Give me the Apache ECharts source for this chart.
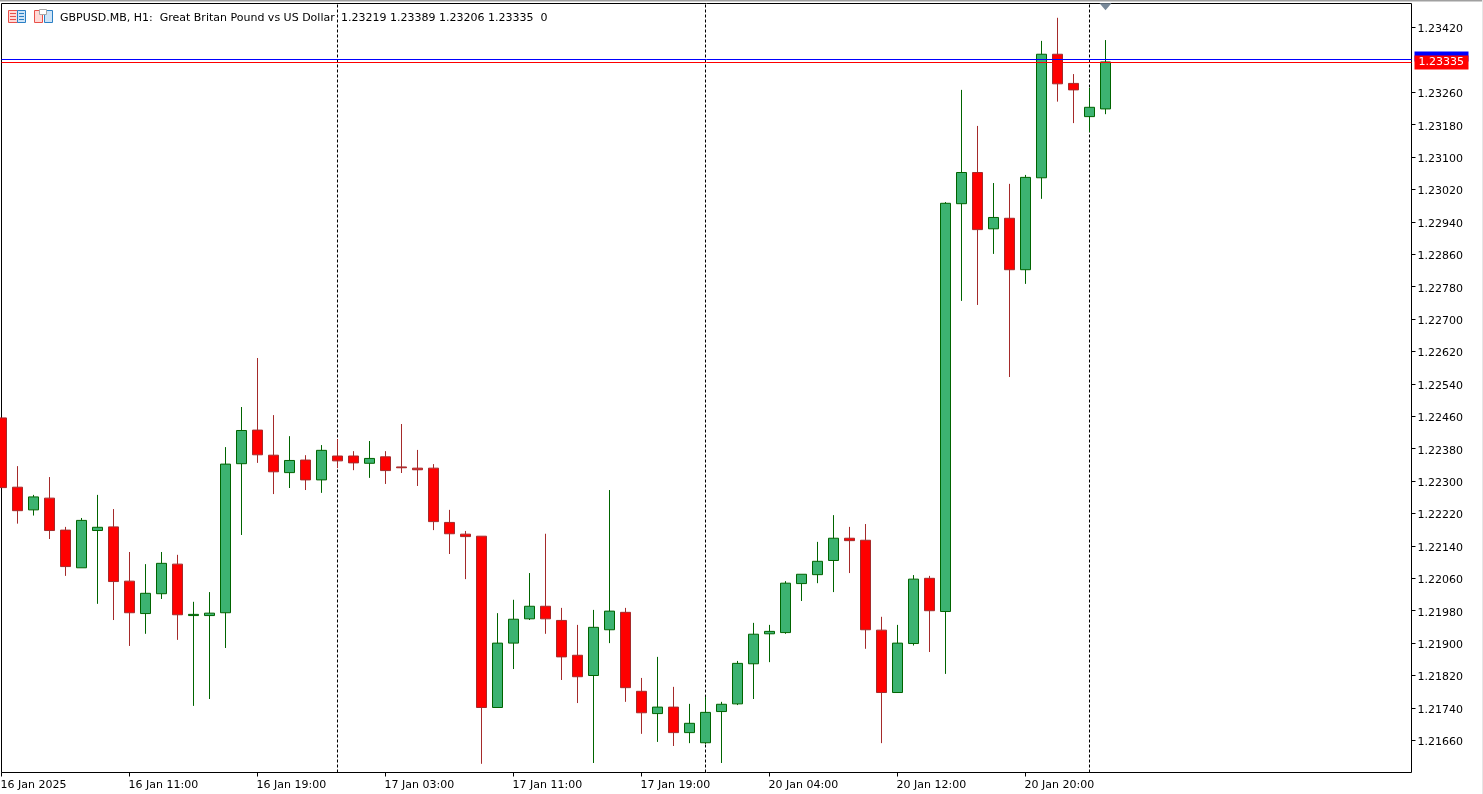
<!DOCTYPE html>
<html><head><meta charset="utf-8">
<style>html,body{margin:0;padding:0;background:#fff}#c{width:1483px;height:794px}</style>
<script src="https://cdn.jsdelivr.net/npm/echarts@6/dist/echarts.min.js"></script>
</head><body><div id="c"></div>
<script>
const days = [
  ['16 Jan',[3,4,5,6,7,8,9,10,11,12,13,14,15,16,17,18,19,20,21,22,23]],
  ['17 Jan',[0,1,2,3,4,5,6,7,8,9,10,11,12,13,14,15,16,17,18,19,20,21,22]],
  ['20 Jan',[0,1,2,3,4,5,6,7,8,9,10,11,12,13,14,15,16,17,18,19,20,21,22,23]],
  ['21 Jan',[0,1]]
];
const emptySlots = 19;
const firstLabel = '16 Jan 2025';
const xTickIndexes = [0,8,16,24,32,40,48,56,64];
const separatorIndexes = [21,44,68];
const yTicks = [1.2342,1.2326,1.2318,1.2310,1.2302,1.2294,1.2286,1.2278,1.2270,1.2262,1.2254,1.2246,1.2238,1.2230,1.2222,1.2214,1.2206,1.2198,1.2190,1.2182,1.2174,1.2166];
const opens = [1.22456,1.22285,1.22229,1.22258,1.22179,1.22086,1.22178,1.22187,1.22053,1.21973,1.22022,1.22095,1.21968,1.21968,1.21975,1.22343,1.22426,1.22364,1.22321,1.22352,1.22303,1.22362,1.22362,1.22344,1.22360,1.22335,1.22332,1.22332,1.22198,1.22169,1.22164,1.21741,1.21900,1.21960,1.21991,1.21956,1.21870,1.21820,1.21933,1.21976,1.21781,1.21726,1.21742,1.21679,1.21654,1.21731,1.21750,1.21849,1.21923,1.21926,1.22047,1.22069,1.22104,1.22159,1.22154,1.21932,1.21778,1.21899,1.22060,1.21978,1.22985,1.23062,1.22923,1.22949,1.22822,1.23049,1.23354,1.23282,1.23200,1.23219];
const closes = [1.22284,1.22227,1.22261,1.22178,1.22089,1.22203,1.22186,1.22052,1.21975,1.22023,1.22097,1.21970,1.21971,1.21974,1.22342,1.22425,1.22365,1.22323,1.22351,1.22303,1.22376,1.22350,1.22345,1.22356,1.22326,1.22333,1.22328,1.22200,1.22170,1.22163,1.21741,1.21900,1.21959,1.21991,1.21960,1.21866,1.21817,1.21939,1.21979,1.21790,1.21728,1.21742,1.21679,1.21702,1.21729,1.21749,1.21850,1.21922,1.21929,1.22048,1.22070,1.22102,1.22159,1.22153,1.21933,1.21778,1.21900,1.22058,1.21980,1.22986,1.23062,1.22921,1.22951,1.22822,1.23050,1.23354,1.23281,1.23266,1.23223,1.23335];
const lows = [1.22284,1.22195,1.22215,1.22157,1.22066,1.22086,1.21997,1.21957,1.21893,1.21923,1.22009,1.21908,1.21745,1.21762,1.21888,1.22167,1.22345,1.22268,1.22283,1.22278,1.22271,1.22332,1.22327,1.22308,1.22293,1.22320,1.22288,1.22179,1.22120,1.22058,1.21602,1.21741,1.21836,1.21957,1.21923,1.21809,1.21752,1.21604,1.21900,1.21755,1.21676,1.21656,1.21646,1.21653,1.21651,1.21604,1.21747,1.21762,1.21853,1.21923,1.22004,1.22048,1.22026,1.22073,1.21886,1.21653,1.21778,1.21894,1.21878,1.21824,1.22745,1.22735,1.22861,1.22557,1.22787,1.22997,1.23237,1.23184,1.23162,1.23206];
const highs = [1.22456,1.22337,1.22266,1.22310,1.22187,1.22209,1.22266,1.22231,1.22125,1.22095,1.22125,1.22118,1.22002,1.22026,1.22384,1.22483,1.22604,1.22463,1.22411,1.22364,1.22389,1.22404,1.22374,1.22399,1.22374,1.22441,1.22377,1.22342,1.22229,1.22177,1.22164,1.21974,1.22007,1.22073,1.22170,1.21987,1.21945,1.21982,1.22278,1.21987,1.21814,1.21866,1.21792,1.21750,1.21767,1.21755,1.21856,1.21950,1.21945,1.22053,1.22070,1.22150,1.22216,1.22187,1.22194,1.21965,1.21945,1.22068,1.22066,1.22989,1.23266,1.23177,1.23036,1.23034,1.23056,1.23387,1.23444,1.23305,1.23271,1.23389];
const askLevel = 1.23341;
const bidLevel = 1.233336;
const bidLabel = '1.23335';
const yMax = 1.234793, yMin = 1.2158053;
const markerPrice = 1.234715;
const titleText = 'GBPUSD.MB, H1:  Great Britan Pound vs US Dollar';
const ohlcText = '1.23219 1.23389 1.23206 1.23335  0';

const categories = [];
days.forEach(d => d[1].forEach(h => categories.push(d[0] + ' ' + String(h).padStart(2,'0') + ':00')));
categories[0] = firstLabel;
for (let i = 0; i < emptySlots; i++) categories.push('x' + i);
const candleData = opens.map((o,i) => [o, closes[i], lows[i], highs[i]]);

const FONT = '"DejaVu Sans"';
const chart = echarts.init(document.getElementById('c'), null, {renderer:'canvas'});
chart.setOption({
  animation:false,
  backgroundColor:'#fff',
  grid:[
    {left:1.5, top:3.5, width:1408, height:769, show:false, outerBoundsMode:'none'},
    {left:1.5, top:3.5, width:1410, height:769, show:true, backgroundColor:'transparent', borderColor:'#000', borderWidth:1, outerBoundsMode:'none'},
    {left:0.5, top:5.5, width:1408, height:769, show:false, outerBoundsMode:'none'},
    {left:1411.5, top:3.5, width:4, height:769, show:false, outerBoundsMode:'none'}
  ],
  xAxis:[
    {type:'category', gridIndex:0, data:categories, boundaryGap:false,
      axisLine:{show:false, onZero:false},
      axisTick:{show:true, length:4, lineStyle:{color:'#000'}, interval:(i)=>xTickIndexes.includes(i)},
      axisLabel:{show:true, color:'transparent', fontSize:11, interval:(i)=>xTickIndexes.includes(i), hideOverlap:false},
      splitLine:{show:false}},
    {type:'value', gridIndex:1, min:0, max:1, show:false},
    {type:'category', gridIndex:2, data:categories, boundaryGap:false,
      axisLine:{show:false, onZero:false}, axisTick:{show:false}, splitLine:{show:false},
      axisLabel:{show:true, color:'#000', fontFamily:FONT, fontSize:11, align:'left', margin:5,
        interval:(i)=>xTickIndexes.includes(i), hideOverlap:false}},
    {type:'value', gridIndex:3, min:0, max:1, show:false}
  ],
  yAxis:[
    {type:'value', gridIndex:0, min:yMin, max:yMax, show:false, scale:true},
    {type:'value', gridIndex:1, position:'right', min:yMin, max:yMax, scale:true, show:false},
    {type:'value', gridIndex:2, position:'right', min:yMin, max:yMax, scale:true,
      axisLine:{show:false, onZero:false}, axisTick:{show:false}, splitLine:{show:false},
      axisLabel:{show:true, color:'#000', fontFamily:FONT, fontSize:11, margin:9, customValues:yTicks, formatter:v=>v.toFixed(5), showMinLabel:true, showMaxLabel:true}},
    {type:'value', gridIndex:3, min:yMin, max:yMax, scale:true, show:false}
  ],
  series:[
    {type:'candlestick', xAxisIndex:0, yAxisIndex:0, data:candleData, barWidth:10, clip:true, z:10,
      itemStyle:{color:'#3CB371', color0:'#FF0000', borderColor:'#006400', borderColor0:'#A52A2A', borderWidth:1},
      markLine:{silent:true, symbol:'none', z:1, animation:false, label:{show:false},
        lineStyle:{color:'#000', type:[3,2], width:1},
        data:separatorIndexes.map(i=>({xAxis:categories[i]}))},
      markPoint:{silent:true, symbol:'triangle', symbolRotate:180, symbolSize:[12,7], animation:false,
        itemStyle:{color:'#778899'}, label:{show:false},
        data:[{coord:[categories[69], markerPrice]}]}
    },
    {type:'line', name:'priceTicks', xAxisIndex:3, yAxisIndex:3, symbol:'none', silent:true, z:12,
      data:[[0,yTicks[0]]], lineStyle:{opacity:0},
      markLine:{silent:true, symbol:'none', animation:false, precision:5, label:{show:false},
        lineStyle:{color:'#000', type:'solid', width:1},
        data:yTicks.map(v=>({yAxis:v}))}},
    {type:'line', name:'ask', xAxisIndex:1, yAxisIndex:1, symbol:'none', z:15, silent:true, clip:false,
      data:[[0,askLevel],[1,askLevel]], lineStyle:{color:'#0000FF', width:1},
      endLabel:{show:true, formatter:' ', backgroundColor:'#0000FF', width:54, height:10, distance:3, offset:[0,-3]}},
    {type:'line', name:'bid', xAxisIndex:1, yAxisIndex:1, symbol:'none', z:16, silent:true, clip:false,
      data:[[0,bidLevel],[1,bidLevel]], lineStyle:{color:'#FF0000', width:1},
      endLabel:{show:true, formatter:bidLabel, backgroundColor:'#FF0000', color:'#fff', fontFamily:FONT, fontSize:11, width:50, height:14, lineHeight:14, align:'left', padding:[0,0,0,4], distance:3}}
  ],
  graphic:[
    {type:'rect', shape:{x:0,y:0,width:1483,height:1.5}, style:{fill:'#a0a0a0'}, silent:true},
    {type:'rect', shape:{x:1482,y:0,width:1,height:794}, style:{fill:'#e6e6e6'}, silent:true},
    {type:'text', x:60, y:13, style:{text:titleText, font:'11px '+FONT, fill:'#000'}, silent:true, z:10},
    {type:'text', x:341, y:13, style:{text:ohlcText, font:'11px '+FONT, fill:'#000'}, silent:true, z:10},
    {type:'rect', shape:{x:8.5,y:10.5,width:9,height:12}, style:{fill:'#ffd9d6', stroke:'#e8504a', lineWidth:1}, silent:true, z:10},
    {type:'rect', shape:{x:17.5,y:10.5,width:8,height:12}, style:{fill:'#cfe4f7', stroke:'#2a7fc4', lineWidth:1}, silent:true, z:10},
    {type:'rect', shape:{x:10,y:13,width:6,height:1}, style:{fill:'#e8504a'}, silent:true, z:11},
    {type:'rect', shape:{x:10,y:16,width:6,height:1}, style:{fill:'#e8504a'}, silent:true, z:11},
    {type:'rect', shape:{x:10,y:19,width:6,height:1}, style:{fill:'#e8504a'}, silent:true, z:11},
    {type:'rect', shape:{x:19,y:13,width:5,height:1}, style:{fill:'#2a7fc4'}, silent:true, z:11},
    {type:'rect', shape:{x:19,y:16,width:5,height:1}, style:{fill:'#2a7fc4'}, silent:true, z:11},
    {type:'rect', shape:{x:19,y:19,width:5,height:1}, style:{fill:'#2a7fc4'}, silent:true, z:11},
    {type:'rect', shape:{x:34.5,y:10.5,width:8,height:12}, style:{fill:'#ffd9d6', stroke:'#e8504a', lineWidth:1}, silent:true, z:10},
    {type:'rect', shape:{x:44.5,y:10.5,width:8,height:12}, style:{fill:'#cfe4f7', stroke:'#2a7fc4', lineWidth:1}, silent:true, z:10},
    {type:'rect', shape:{x:39.5,y:9.5,width:7,height:5}, style:{fill:'#fff', stroke:'#a8a8a8', lineWidth:1}, silent:true, z:11}
  ]
});
</script></body></html>
